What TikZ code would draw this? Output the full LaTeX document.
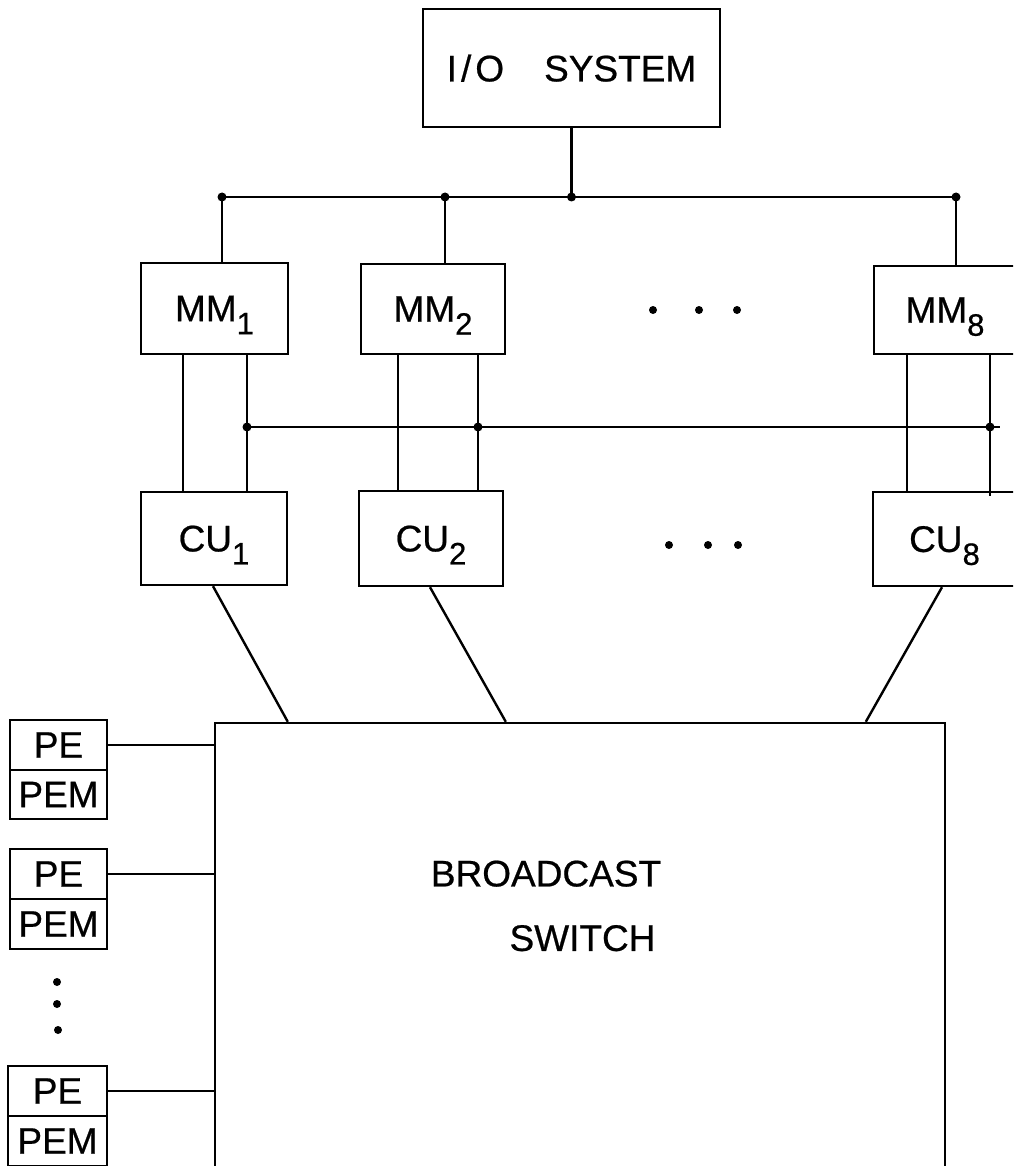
\documentclass[tikz,border=0pt]{standalone}
\usepackage{fontspec}
\setmainfont{Liberation Sans}
\usetikzlibrary{calc}
\newcommand\mysub[1]{\raisebox{-13pt}{\fontsize{31}{31}\selectfont #1}}
\begin{document}
\begin{tikzpicture}[x=1pt,y=-1pt,
  line width=2.4pt,
  box/.style={draw, line width=2.4pt, inner sep=0pt, text depth=0pt,
    font=\fontsize{37}{40}\selectfont\addfontfeature{FakeBold=0.6}},
  lbl/.style={inner sep=0pt, text depth=0pt, font=\fontsize{37}{40}\selectfont\addfontfeature{FakeBold=0.6}},
  jdot/.style={circle, fill, inner sep=0pt, minimum size=9pt},
  edot/.style={circle, fill, inner sep=0pt, minimum size=8pt}]
\useasboundingbox (0,0) rectangle (1013,1166);
\clip (0,0) rectangle (1013,1166);
% boxes
\node[box, minimum width=297pt, minimum height=118pt] (io) at (571.5,68) {I\kern4pt/\kern4ptO\hspace{40pt}SYSTEM};
\node[box, minimum width=147pt, minimum height=91pt] (mm1) at (214.5,308.5) {MM\mysub{1}};
\node[box, minimum width=144pt, minimum height=90pt] (mm2) at (433,309) {MM\mysub{2}};
\node[box, minimum width=142pt, minimum height=88pt] (mm8) at (945,310) {MM\mysub{8}};
\node[box, minimum width=146pt, minimum height=93pt] (cu1) at (214,538.5) {CU\mysub{1}};
\node[box, minimum width=144pt, minimum height=95pt] (cu2) at (431,538.5) {CU\mysub{2}};
\node[box, minimum width=143pt, minimum height=94pt] (cu8) at (944.5,539) {CU\mysub{8}};
\node[draw, line width=2.4pt, inner sep=0pt, minimum width=730pt, minimum height=477pt] (sw) at (580,961.5) {};
\node[lbl] (bc) at (546,873.5) {BROADCAST};
\node[lbl] (swt) at (582.5,938) {SWITCH};
% PE / PEM
\node[box, minimum width=97pt, minimum height=50pt] (pe1) at (58.5,745) {PE};
\node[box, minimum width=97pt, minimum height=49pt] (pem1) at (58.5,794.5) {PEM};
\node[box, minimum width=97pt, minimum height=50pt] (pe2) at (58.5,874) {PE};
\node[box, minimum width=97pt, minimum height=50pt] (pem2) at (58.5,924) {PEM};
\node[box, minimum width=99pt, minimum height=50pt] (pe3) at (57.5,1091) {PE};
\node[box, minimum width=99pt, minimum height=50pt] (pem3) at (57.5,1141) {PEM};
% top bus
\coordinate (b1) at (222,197);
\coordinate (b2) at (445,197);
\coordinate (bio) at (io.south |- b1);
\coordinate (b8) at (956,197);
\draw (io.south) -- (bio);
\draw (b1) -- (b8);
\draw (b1) -- (b1 |- mm1.north);
\draw (b2) -- (b2 |- mm2.north);
\draw (b8) -- (b8 |- mm8.north);
\node[jdot] at (b1) {};
\node[jdot] at (b2) {};
\node[jdot] at (bio) {};
\node[jdot] at (b8) {};
% MM to CU lines
\coordinate (m1a) at (183,354);
\coordinate (m1b) at (247,354);
\coordinate (m2a) at (398,354);
\coordinate (m2b) at (478,354);
\coordinate (m8a) at (907,354);
\coordinate (m8b) at (990,354);
\draw (m1a |- mm1.south) -- (m1a |- cu1.north);
\draw (m1b |- mm1.south) -- (m1b |- cu1.north);
\draw (m2a |- mm2.south) -- (m2a |- cu2.north);
\draw (m2b |- mm2.south) -- (m2b |- cu2.north);
\draw (m8a |- mm8.south) -- (m8a |- cu8.north);
\draw (m8b |- mm8.south) -- ($(m8b |- cu8.north)+(0,5)$);
% second bus
\coordinate (c1) at (247,427);
\coordinate (c2) at (478,427);
\coordinate (c8) at (990,427);
\coordinate (cend) at (1000,427);
\draw (c1) -- (cend);
\node[jdot] at (c1) {};
\node[jdot] at (c2) {};
\node[jdot] at (c8) {};
% CU to switch
\draw ([xshift=-1pt]cu1.south) -- ($(sw.north west)+(74,0)$);
\draw ([xshift=-1pt]cu2.south) -- ($(sw.north west)+(292,0)$);
\draw ([xshift=-2.5pt]cu8.south) -- ($(sw.north west)+(652,0)$);
% PE to switch
\draw (pe1.east) -- (pe1.east -| sw.west);
\draw (pe2.east) -- (pe2.east -| sw.west);
\draw (pe3.east) -- (pe3.east -| sw.west);
% ellipsis dots
\node[edot] at (653,310) {};
\node[edot] at (699,310) {};
\node[edot] at (737,310) {};
\node[edot] at (669,545) {};
\node[edot] at (708,545) {};
\node[edot] at (738,545) {};
\node[edot] at (57,982) {};
\node[edot] at (57,1004) {};
\node[edot] at (58,1030) {};
\end{tikzpicture}
\end{document}
